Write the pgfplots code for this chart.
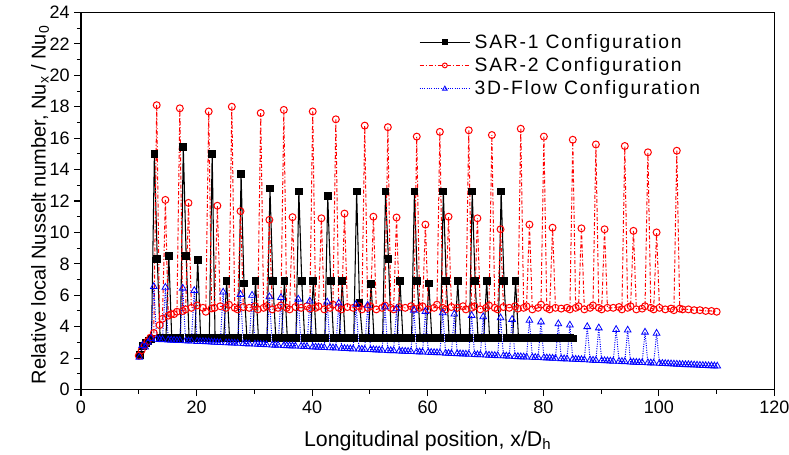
\documentclass[border=0pt]{standalone}
\usepackage{fontspec}
\setmainfont{Liberation Sans}
\newfontfamily\legfont[LetterSpace=9]{Liberation Sans}
\usepackage{pgfplots}
\pgfplotsset{compat=1.18}

\begin{document}
\begin{tikzpicture}
\useasboundingbox (0,0) rectangle (591.75pt,340.5pt);
\begin{axis}[
  at={(60.75pt,48.375pt)}, anchor=south west,
  scale only axis,
  width=520.1pt, height=282.75pt,
  xmin=0, xmax=120, ymin=0, ymax=24,
  xtick={0,20,...,120}, ytick={0,2,...,24},
  minor x tick num=1, minor y tick num=1,
  tick align=outside, xtick pos=left, ytick pos=left,
  major tick length=5pt, minor tick length=3pt,
  every tick/.style={black, line width=0.8pt},
  axis line style={line width=1pt},
  /pgf/number format/assume math mode=true,
  tick label style={font=\fontsize{13.5}{16}\selectfont},
  xlabel={Longitudinal position, x/D\textsubscript{h}},
  ylabel={Relative local Nusselt number, Nu\textsubscript{x} / Nu\textsubscript{0}},
  xlabel style={font=\fontsize{16}{19}\selectfont, at={(axis description cs:0.5,-0.15)}, anchor=base},
  ylabel style={font=\fontsize{15}{18}\selectfont, at={(axis description cs:-0.059,0.49)}, anchor=center, rotate=0},
  legend style={at={(axis description cs:0.487,0.947)}, anchor=north west, draw=none, fill=none,
    inner sep=0pt, font=\legfont\fontsize{14.5}{17}\selectfont, row sep=3.5pt,
    nodes={inner xsep=3pt, inner ysep=1pt}},
  legend cell align=left,
  legend image code/.code={\draw[mark repeat=2,mark phase=2,#1,every mark/.append style={scale=0.7}] plot coordinates {(0pt,0pt) (19pt,0pt) (38pt,0pt)};},
]
% SAR-1
\addplot[black, line width=0.8pt, mark=square*, mark size=2.5pt, mark options={solid}] coordinates {
(10.2,2.2) (10.7,2.75) (11.2,2.95) (11.7,3.1) (12.2,3.2)
(12.7,15.0) (13.2,8.3) (13.7,3.3) (14.2,3.25) (14.7,3.28) (15.2,8.5) (15.7,3.3) (16.2,3.25) (16.7,3.28) (17.2,3.3)
(17.7,15.45) (18.2,8.5) (18.7,3.3) (19.2,3.25) (19.7,3.28) (20.2,8.26) (20.7,3.3) (21.2,3.25) (21.7,3.28) (22.2,3.3)
(22.7,15.0) (23.2,3.3) (23.7,3.25) (24.2,3.28) (24.7,3.25) (25.2,6.9) (25.7,3.3) (26.2,3.25) (26.7,3.28) (27.2,3.3)
(27.7,13.7) (28.2,6.75) (28.7,3.3) (29.2,3.25) (29.7,3.28) (30.2,6.9) (30.7,3.3) (31.2,3.25) (31.7,3.28) (32.2,3.3)
(32.7,12.8) (33.2,6.9) (33.7,3.3) (34.2,3.25) (34.7,3.28) (35.2,6.9) (35.7,3.3) (36.2,3.25) (36.7,3.28) (37.2,3.3)
(37.7,12.6) (38.2,6.9) (38.7,3.3) (39.2,3.25) (39.7,3.28) (40.2,6.9) (40.7,3.3) (41.2,3.25) (41.7,3.28) (42.2,3.3)
(42.7,12.3) (43.2,6.9) (43.7,3.3) (44.2,3.25) (44.7,3.28) (45.2,6.9) (45.7,3.3) (46.2,3.25) (46.7,3.28) (47.2,3.3)
(47.7,12.6) (48.2,5.5) (48.7,3.3) (49.2,3.25) (49.7,3.28) (50.2,6.7) (50.7,3.3) (51.2,3.25) (51.7,3.28) (52.2,3.3)
(52.7,12.6) (53.2,8.3) (53.7,3.3) (54.2,3.25) (54.7,3.28) (55.2,6.9) (55.7,3.3) (56.2,3.25) (56.7,3.28) (57.2,3.3)
(57.7,12.6) (58.2,6.9) (58.7,3.3) (59.2,3.25) (59.7,3.28) (60.2,6.75) (60.7,3.3) (61.2,3.25) (61.7,3.28) (62.2,3.3)
(62.7,12.6) (63.2,6.9) (63.7,3.3) (64.2,3.25) (64.7,3.28) (65.2,6.9) (65.7,3.3) (66.2,3.25) (66.7,3.28) (67.2,3.3)
(67.7,12.6) (68.2,6.9) (68.7,3.3) (69.2,3.25) (69.7,3.28) (70.2,6.9) (70.7,3.3) (71.2,3.25) (71.7,3.28) (72.2,3.3)
(72.7,12.6) (73.2,6.9) (73.7,3.3) (74.2,3.25) (74.7,3.28) (75.2,6.9) (75.7,3.3) (76.2,3.25) (76.7,3.28) (77.2,3.3)
(77.7,3.25) (78.2,3.28) (78.7,3.3) (79.2,3.25) (79.7,3.28) (80.2,3.3) (80.7,3.25) (81.2,3.28) (81.7,3.3) (82.2,3.25)
(82.7,3.28) (83.2,3.3) (83.7,3.25) (84.2,3.28) (84.7,3.3) (85.2,3.25)
};
\addlegendentry{SAR-1 Configuration}
% SAR-2
\addplot[red, line width=0.75pt, dash pattern=on 3pt off 1.5pt on 0.8pt off 1.5pt, mark=o, mark size=2.6pt, mark options={solid}] coordinates {
(10.0,2.15) (10.5,2.5) (11.0,2.8) (11.5,3.05) (12.0,3.3) (12.6,3.6)
(13.1,18.1) (13.6,4.1) (14.1,4.5) (14.6,12.07) (15.1,4.7) (15.6,4.8) (16.1,4.8) (16.6,4.95)
(17.1,17.9) (17.6,5.0) (18.1,5.1) (18.6,11.88) (19.1,5.2) (20.1,5.35) (21.1,5.2) (21.6,4.95)
(22.1,17.7) (22.6,5.16) (23.1,5.2) (23.6,11.7) (24.1,5.3) (25.1,5.2) (25.6,5.4)
(26.1,18.0) (26.6,5.2) (27.1,5.1) (27.6,11.35) (28.1,5.25) (29.1,5.2) (30.1,5.3) (30.6,5.1)
(31.1,17.6) (31.6,5.2) (32.1,5.3) (32.6,10.8) (33.1,5.1) (34.1,5.2) (34.6,5.35)
(35.1,17.8) (35.6,5.2) (36.1,5.1) (36.6,10.97) (37.1,5.25) (38.1,5.2) (39.1,5.3) (39.6,5.15)
(40.1,17.7) (40.6,5.2) (41.1,5.3) (41.6,10.9) (42.1,5.1) (43.1,5.2) (43.6,5.4)
(44.1,17.2) (44.6,5.2) (45.1,5.1) (45.6,11.2) (46.1,5.25) (47.1,5.2) (48.1,5.3) (48.6,5.1)
(49.1,16.8) (49.6,5.2) (50.1,5.3) (50.6,11.0) (51.1,5.1) (52.1,5.2) (52.6,5.35)
(53.1,16.7) (53.6,5.2) (54.1,5.1) (54.6,10.95) (55.1,5.25) (56.1,5.2) (57.1,5.3) (57.6,5.15)
(58.1,16.1) (58.6,5.2) (59.1,5.3) (59.6,10.5) (60.1,5.1) (61.1,5.2) (61.6,5.4)
(62.1,16.4) (62.6,5.2) (63.1,5.1) (63.6,11.0) (64.1,5.25) (65.1,5.2) (66.1,5.3) (66.6,5.1)
(67.1,16.5) (67.6,5.2) (68.1,5.3) (68.6,10.9) (69.1,5.1) (70.1,5.2) (70.6,5.35)
(71.1,16.2) (71.6,5.2) (72.1,5.1) (72.6,10.2) (73.1,5.25) (74.1,5.2) (75.1,5.3) (75.6,5.15)
(76.1,16.6) (76.6,5.2) (77.1,5.3) (77.6,10.5) (78.1,5.1) (79.1,5.2) (79.6,5.4)
(80.1,16.1) (80.6,5.2) (81.1,5.1) (81.6,10.3) (82.1,5.2) (83.1,5.15) (84.1,5.2) (84.6,5.1)
(85.1,15.9) (85.6,5.2) (86.1,5.3) (86.6,10.26) (87.1,5.1) (88.1,5.2) (88.6,5.35)
(89.1,15.6) (89.6,5.2) (90.1,5.1) (90.6,10.2) (91.1,5.2) (92.1,5.2) (93.1,5.25) (93.6,5.1)
(94.1,15.5) (94.6,5.2) (95.1,5.3) (95.6,10.1) (96.1,5.1) (97.1,5.15) (97.6,5.3)
(98.1,15.1) (98.6,5.2) (99.1,5.1) (99.6,10.0) (100.1,5.2) (101.1,5.1) (102.1,5.15) (102.6,5.05)
(103.1,15.2) (103.6,5.15) (104.1,5.1) (105.1,5.1) (106.1,5.05) (107.1,5.05) (108.1,5.0) (109.1,5.0) (110.0,4.95)
};
\addlegendentry{SAR-2 Configuration}
% 3D-Flow
\addplot[blue, line width=0.75pt, densely dotted, mark=triangle, mark size=2.9pt, mark options={solid, line width=0.6pt}] coordinates {
(10.1,2.05) (10.6,2.8) (11.1,2.7) (11.6,3.0) (12.1,3.25) (12.6,6.55) (13.1,3.2) (13.6,3.18) (14.1,3.17) (14.6,6.5)
(15.1,3.15) (15.6,3.14) (16.1,3.13) (16.6,3.12) (17.1,3.12) (17.6,6.45) (18.1,3.10) (18.6,3.09) (19.1,3.08) (19.6,6.3)
(20.1,3.06) (20.6,3.05) (21.1,3.05) (21.6,3.04) (22.1,3.03) (22.6,3.02) (23.1,3.01) (23.6,3.00) (24.1,2.99) (24.6,6.2)
(25.1,2.97) (25.6,2.97) (26.1,2.96) (26.6,2.95) (27.1,2.94) (27.6,6.05) (28.1,2.92) (28.6,2.91) (29.1,2.90) (29.6,6.0)
(30.1,2.89) (30.6,2.88) (31.1,2.87) (31.6,2.86) (32.1,2.85) (32.6,5.9) (33.1,2.83) (33.6,2.82) (34.1,2.82) (34.6,5.85)
(35.1,2.80) (35.6,2.79) (36.1,2.78) (36.6,2.77) (37.1,2.76) (37.6,5.75) (38.1,2.75) (38.6,2.74) (39.1,2.73) (39.6,5.63)
(40.1,2.71) (40.6,2.70) (41.1,2.69) (41.6,2.68) (42.1,2.67) (42.6,5.57) (43.1,2.66) (43.6,2.65) (44.1,2.64) (44.6,5.5)
(45.1,2.62) (45.6,2.61) (46.1,2.60) (46.6,2.59) (47.1,2.58) (47.6,5.42) (48.1,2.57) (48.6,2.56) (49.1,2.55) (49.6,5.36)
(50.1,2.54) (50.6,2.53) (51.1,2.52) (51.6,2.51) (52.1,2.50) (52.6,5.25) (53.1,2.48) (53.6,2.47) (54.1,2.47) (54.6,5.14)
(55.1,2.45) (55.6,2.44) (56.1,2.43) (56.6,2.42) (57.1,2.41) (57.6,5.05) (58.1,2.40) (58.6,2.39) (59.1,2.38) (59.6,4.97)
(60.1,2.37) (60.6,2.36) (61.1,2.35) (61.6,2.34) (62.1,2.33) (62.6,4.88) (63.1,2.31) (63.6,2.30) (64.1,2.29) (64.6,4.8)
(65.1,2.28) (65.6,2.27) (66.1,2.26) (66.6,2.25) (67.1,2.24) (67.6,4.71) (68.1,2.22) (68.6,2.21) (69.1,2.21) (69.6,4.63)
(70.1,2.19) (70.6,2.18) (71.1,2.17) (71.6,2.16) (72.1,2.15) (72.6,4.56) (73.1,2.14) (73.6,2.13) (74.1,2.12) (74.6,4.46)
(75.1,2.10) (75.6,2.09) (76.1,2.08) (76.6,2.07) (77.1,2.06) (77.6,4.4) (78.1,2.05) (78.6,2.04) (79.1,2.03) (79.6,4.3)
(80.1,2.02) (80.6,2.01) (81.1,2.00) (81.6,1.99) (82.1,1.98) (82.6,4.18) (83.1,1.96) (83.6,1.95) (84.1,1.94) (84.6,4.1)
(85.1,1.93) (85.6,1.92) (86.1,1.91) (86.6,1.90) (87.1,1.89) (87.6,4.0) (88.1,1.87) (88.6,1.86) (89.1,1.85) (89.6,3.92)
(90.1,1.84) (90.6,1.83) (91.1,1.82) (91.6,1.81) (92.1,1.80) (92.6,3.82) (93.1,1.79) (93.6,1.78) (94.1,1.77) (94.6,3.78)
(95.1,1.75) (95.6,1.74) (96.1,1.73) (96.6,1.72) (97.1,1.71) (97.6,3.65) (98.1,1.70) (98.6,1.69) (99.1,1.68) (99.6,3.58)
(100.1,1.67) (100.6,1.66) (101.1,1.65) (101.6,1.64) (102.1,1.63) (102.6,1.62) (103.1,1.61) (103.6,1.60) (104.1,1.59) (104.6,1.58)
(105.1,1.58) (105.6,1.57) (106.1,1.56) (106.6,1.55) (107.1,1.54) (107.6,1.53) (108.1,1.52) (108.6,1.51) (109.1,1.51) (109.6,1.50)
(110.1,1.49)
};
\addlegendentry{3D-Flow Configuration}
\end{axis}
\end{tikzpicture}
\end{document}
